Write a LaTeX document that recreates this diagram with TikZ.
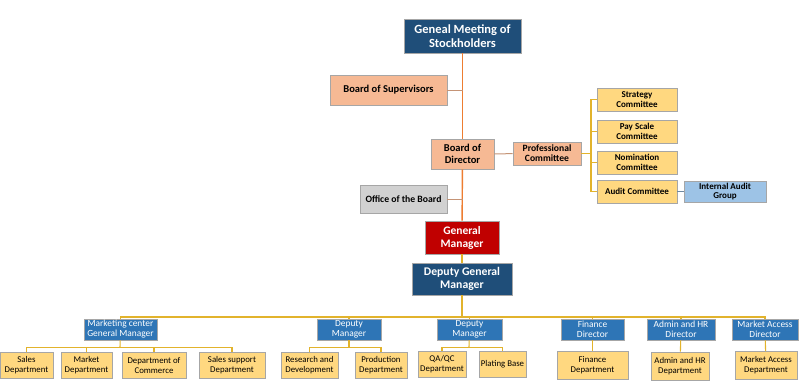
\documentclass[tikz,border=0pt]{standalone}
\usepackage{fontspec}
\setmainfont{Carlito}
\definecolor{navy}{HTML}{1F4E79}
\definecolor{midblue}{HTML}{2E75B6}
\definecolor{paleblue}{HTML}{9DC3E6}
\definecolor{salmon}{HTML}{F6B994}
\definecolor{boardred}{HTML}{C00000}
\definecolor{sand}{HTML}{FFD880}
\definecolor{trunk}{HTML}{ED7D31}
\definecolor{goldline}{HTML}{E2B32C}

\begin{document}
\begin{tikzpicture}[x=1pt,y=-1pt,
  box/.style={draw=black!35,line width=0.8pt,inner sep=1pt,align=center,
    minimum height=#1},
  box/.default=23pt,
  topbox/.style={box=34pt,fill=navy,text=white,font=\fontsize{12.5}{14.5}\selectfont\bfseries},
  pinkbox/.style={box,fill=salmon,font=\fontsize{10.5}{12}\selectfont\bfseries},
  combox/.style={box,fill=sand,minimum width=80pt,font=\fontsize{9}{10}\selectfont\bfseries},
  midbox/.style={box=21pt,fill=midblue,text=white,font=\fontsize{9.4}{10}\selectfont},
  lowbox/.style={box=26pt,fill=sand,font=\fontsize{8.8}{10}\selectfont},
  orangeline/.style={trunk,line width=1.4pt},
  goldwire/.style={goldline,line width=1.1pt}]
\useasboundingbox (0,0) rectangle (800,381);

% top of the tree
\node[topbox,minimum width=117pt] (meeting) at (462.5,36) {Geneal Meeting of\\Stockholders};
\node[pinkbox,box=30pt,minimum width=117pt] (supervisors) at (388.5,90) {Board of Supervisors};
\node[pinkbox,box=30pt,minimum width=63pt,font=\fontsize{10.5}{12}\selectfont\bfseries] (director) at (462.5,154) {Board of\\Director};
\node[pinkbox,minimum width=68pt,font=\fontsize{9.6}{10}\selectfont\bfseries] (profcom) at (547,153.5) {Professional\\Committee};
\node[box=28pt,fill=black!18,minimum width=87pt,font=\fontsize{9.7}{10}\selectfont\bfseries] (office) at (403.5,199) {Office of the Board};
\node[box=33pt,fill=boardred,text=white,minimum width=74pt,font=\fontsize{11.5}{13}\selectfont\bfseries] (gm) at (462,237.5) {General\\Manager};
\node[box=32pt,fill=navy,text=white,minimum width=100pt,font=\fontsize{11.7}{13}\selectfont\bfseries] (dgm) at (462,279) {Deputy General\\Manager};

% committees
\node[combox] (strategy) at (637,99.5) {Strategy\\Committee};
\node[combox] (payscale) at (637,131.5) {Pay Scale\\Committee};
\node[combox] (nomination) at (637,162.5) {Nomination\\Committee};
\node[combox] (audit) at (637,191.5) {Audit Committee};
\node[box=21pt,fill=paleblue,minimum width=82pt,font=\fontsize{9}{9.5}\selectfont\bfseries] (internal) at (725,191.5) {Internal Audit\\Group};

% second level
\node[midbox,minimum width=73pt] (mktgm) at (120.5,329.5) {Marketing center\\General Manager};
\node[midbox,minimum width=64pt] (deputya) at (349,329.5) {Deputy\\Manager};
\node[midbox,minimum width=65pt] (deputyb) at (469.5,329.5) {Deputy\\Manager};
\node[midbox,minimum width=63pt] (findir) at (592.5,329.5) {Finance\\Director};
\node[midbox,minimum width=68pt] (hrdir) at (681,329.5) {Admin and HR\\Director};
\node[midbox,minimum width=66pt] (madir) at (765,329.5) {Market Access\\Director};

% departments
\node[lowbox,minimum width=53pt] (sales) at (26.5,365) {Sales\\Department};
\node[lowbox,minimum width=51pt] (market) at (86.5,365) {Market\\Department};
\node[lowbox,minimum width=64pt] (commerce) at (154,365.5) {Department of\\Commerce};
\node[lowbox,minimum width=66pt] (support) at (232,365.5) {Sales support\\Department};
\node[lowbox,minimum width=57pt] (rnd) at (309.5,365) {Research and\\Development};
\node[lowbox,minimum width=52pt] (prod) at (381,365.5) {Production\\Department};
\node[lowbox,minimum width=48pt] (qaqc) at (442,364.5) {QA/QC\\Department};
\node[lowbox,minimum width=47pt] (plating) at (502.5,364.5) {Plating Base};
\node[lowbox,box=28pt,minimum width=71pt] (findep) at (592.5,365.5) {Finance\\Department};
\node[lowbox,box=28pt,minimum width=58pt] (hrdep) at (680,366) {Admin and HR\\Department};
\node[lowbox,box=28pt,minimum width=62pt] (madep) at (766,365.5) {Market Access\\Department};

\coordinate (combus) at (591,153.5);
\coordinate (bus) at (462,317);
\coordinate (mktbus) at (120,347.5);
\coordinate (debusa) at (349,347.5);
\coordinate (debusb) at (469,347.5);

% connectors
\draw[orangeline] (meeting) -- (director);
\draw[orangeline] (director) -- (gm);
\draw[goldwire] (gm) -- (dgm);
\draw[salmon!80!black,line width=1pt] (supervisors.east) -- (supervisors.east -| meeting.south);
\draw[salmon!80!black,line width=1pt] (office.east) -- (office.east -| director.south);
\draw[salmon!80!black,line width=1pt] (director) -- (profcom);
\draw[goldwire] (profcom.east) -- (combus);
\draw[goldwire] (strategy.west) -| (combus) |- (audit.west);
\draw[goldwire] (payscale.west) -- (payscale.west -| combus);
\draw[goldwire] (nomination.west) -- (nomination.west -| combus);
\draw[paleblue!70!black,line width=1pt] (audit) -- (internal);

\draw[goldwire] (dgm) -- (bus);
\draw[goldwire] (mktgm.north) |- (bus) -| (madir.north);
\foreach \n in {deputya,deputyb,findir,hrdir}
  \draw[goldwire] (\n.north) -- (\n.north |- bus);

\draw[goldwire] (mktgm) -- (mktbus);
\draw[goldwire] (sales.north) |- (mktbus) -| (support.north);
\draw[goldwire] (market.north) -- (market.north |- mktbus);
\draw[goldwire] (commerce.north) -- (commerce.north |- mktbus);
\draw[goldwire] (deputya) -- (debusa);
\draw[goldwire] (rnd.north) |- (debusa) -| (prod.north);
\draw[goldwire] (deputyb) -- (debusb);
\draw[goldwire] (qaqc.north) |- (debusb) -| (plating.north);
\draw[goldwire] (findir) -- (findep);
\draw[goldwire] (hrdir) -- (hrdep);
\draw[goldwire] (madir) -- (madep);
\end{tikzpicture}
\end{document}
